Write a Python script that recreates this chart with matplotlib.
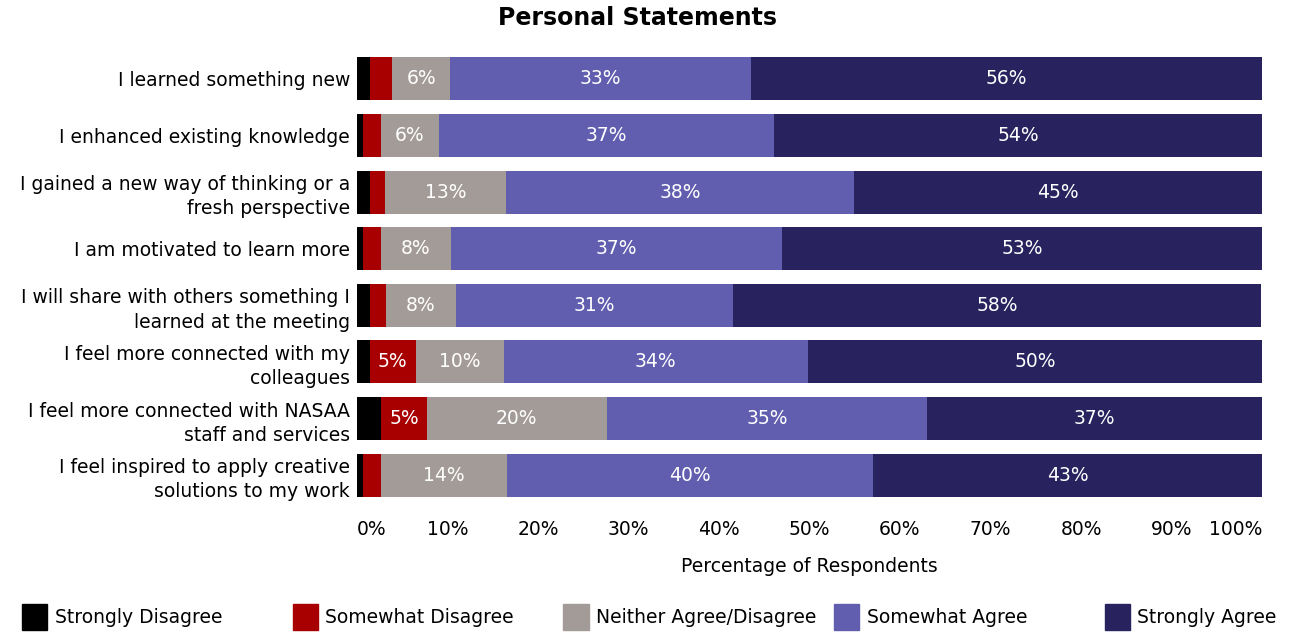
import numpy as np
import matplotlib.pyplot as plt
from matplotlib.patches import Patch

plt.rcParams['font.family'] = ['DejaVu Sans']

statements = [
    "I learned something new",
    "I enhanced existing knowledge",
    "I gained a new way of thinking or a\nfresh perspective",
    "I am motivated to learn more",
    "I will share with others something I\nlearned at the meeting",
    "I feel more connected with my\ncolleagues",
    "I feel more connected with NASAA\nstaff and services",
    "I feel inspired to apply creative\nsolutions to my work",
]
levels = ["Strongly Disagree", "Somewhat Disagree", "Neither Agree/Disagree",
          "Somewhat Agree", "Strongly Agree"]
strongly_disagree = [1.4, 0.7, 1.4, 0.7, 1.4, 1.4, 2.7, 0.7]
somewhat_disagree = [2.5, 1.9, 1.7, 1.9, 1.8, 5.1, 5.0, 1.9]
neither = [6.4, 6.5, 13.4, 7.8, 7.7, 9.7, 19.9, 14.0]
somewhat_agree = [33.2, 37.0, 38.4, 36.6, 30.7, 33.6, 35.4, 40.4]
strongly_agree = [56.5, 53.9, 45.1, 53.0, 58.3, 50.2, 37.0, 43.0]
colors = ["#000000", "#a80000", "#a39b98", "#615eb0", "#28235e"]

series = [strongly_disagree, somewhat_disagree, neither, somewhat_agree, strongly_agree]

fig = plt.figure(figsize=(12.9, 6.32), dpi=100)
ax = fig.add_axes([357 / 1290, 1 - 503.5 / 632, 905 / 1290, 453 / 632])

y = np.arange(len(statements))
left = np.zeros(len(statements))
for vals, col in zip(series, colors):
    vals = np.array(vals)
    ax.barh(y, vals, left=left, height=0.76, color=col)
    for yi, v, l in zip(y, vals, left):
        if v >= 4.5:
            ax.text(l + v / 2, yi, f"{v:.0f}%", ha='center', va='center',
                    color='white', fontsize=13.5)
    left += vals

ax.set_xlim(0, 100)
ax.set_ylim(len(statements) - 0.5, -0.5)
ax.set_yticks(y)
ax.set_yticklabels(statements, fontsize=13.5, linespacing=1.35)
ax.tick_params(axis='y', length=0, pad=5)

ticks = np.arange(0, 101, 10)
ax.set_xticks(ticks)
ax.set_xticklabels([f"{t}%" for t in ticks], fontsize=13.5)
ax.tick_params(axis='x', length=0, pad=12)
xt = ax.get_xticklabels()
xt[0].set_ha('left')
xt[-1].set_ha('right')

ax.set_xlabel("Percentage of Respondents", fontsize=13.5, labelpad=13)
for s in ax.spines.values():
    s.set_visible(False)

fig.text(637 / 1290, 1 - 18 / 632, "Personal Statements", ha='center', va='center',
         fontsize=17, fontweight='bold')

# legend entries spaced evenly along the bottom
for i, (lab, col) in enumerate(zip(levels, colors)):
    x0 = (5 + 270.7 * i) / 1290
    fig.legend(handles=[Patch(color=col, label=lab)], loc='center left',
               bbox_to_anchor=(x0, 1 - 617 / 632), frameon=False, fontsize=13.5,
               handlelength=1.35, handleheight=1.7, handletextpad=0.4)

fig.savefig("out.png", dpi=100)
